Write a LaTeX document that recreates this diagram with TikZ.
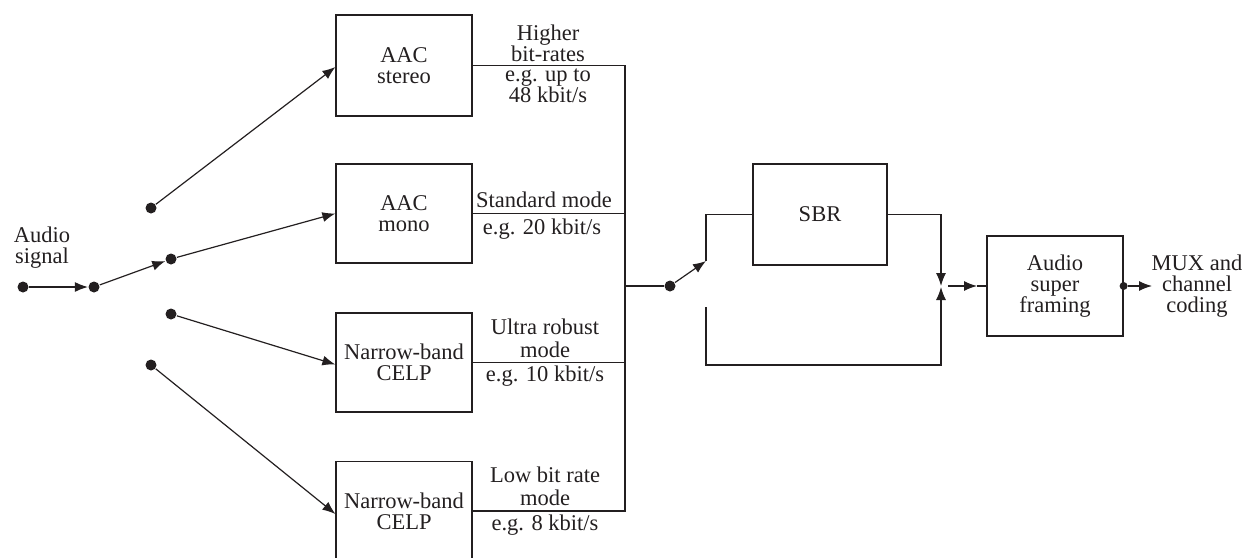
\documentclass[tikz,border=0pt]{standalone}
\usepackage{fontspec}
\setmainfont{Liberation Serif}
\usetikzlibrary{arrows.meta}
\definecolor{ink}{RGB}{35,31,32}
\begin{document}
\begin{tikzpicture}[x=1pt,y=-1pt,
  line width=1.2pt, color=ink,
  txt/.style={font=\fontsize{22.5}{21}\selectfont, text=ink, align=center, inner sep=0pt},
  wide/.style={font=\fontsize{22.5}{23}\selectfont},
  blk/.style={draw=ink, line width=1.2pt, minimum width=136pt, minimum height=100pt, txt},
  dot/.style={circle, fill=ink, draw=none, inner sep=0pt, minimum size=11pt},
  arr/.style={-{Latex[length=13pt,width=10pt]}}
]
\useasboundingbox (0,0) rectangle (1247,557);

% blocks
\node[blk, minimum height=101pt] (stereo) at (404,65.5) {AAC\\stereo};
\node[blk, minimum height=99pt] (mono) at (404,213.5) {AAC\\mono};
\node[blk, minimum height=99pt] (nb1) at (404,362.5) {Narrow-band\\CELP};
\node[blk, minimum height=99pt] (nb2) at (404,511) {Narrow-band\\CELP};
\node[blk, minimum width=134pt, minimum height=101pt] (sbr) at (820,214.5) {SBR};
\node[blk] (asf) at (1055,286) {Audio\\super\\framing};

% dots
\node[dot] (d0) at (23,287) {};
\node[dot] (d1) at (94,287) {};
\node[dot] (dtop) at (151,208) {};
\node[dot] (dmid) at (171,259) {};
\node[dot] (dlow) at (171,314) {};
\node[dot] (dbot) at (151,365) {};
\node[dot] (dsw) at (670,286) {};
\node[dot, minimum size=8pt] (dout) at (asf.east) {};

% coordinates
\coordinate (bt) at (625,65.5);
\coordinate (bj) at (625,286);
\coordinate (bb) at (625,511);
\coordinate (sw1) at (706,261);
\coordinate (sw2) at (706,307);
\coordinate (lowl) at (706,365);
\coordinate (lowr) at (941,365);
\coordinate (jt) at (941,286);
\coordinate (jb) at (941,287);
\coordinate (jo) at (948,286);
\coordinate (tipa) at (977,286);
\coordinate (tipb) at (1152,286);

% input arrows
\draw[arr] (d0) -- (d1);
\draw[arr] (d1) -- (dmid);
\draw[arr] (dtop) -- ([yshift=-1.5pt]stereo.west);
\draw[arr] (dmid) -- (mono.west);
\draw[arr] (dlow) -- ([yshift=-2pt]nb1.west);
\draw[arr] (dbot) -- ([yshift=-3pt]nb2.west);

% bus
\draw (stereo.east) -- (bt) -- (bb) -- (nb2.east);
\draw (mono.east) -- (mono.east -| bt);
\draw (nb1.east) -- (nb1.east -| bt);
\draw (bj) -- (dsw);

% switch and SBR
\draw[arr] (dsw) -- (sw1);
\draw (sw1) |- (sbr.west);
\draw[arr] (sbr.east) -| (jt);
\draw[arr] (sw2) -- (lowl) -- (lowr) -- (jb);
\draw[arr] (jo) -- (tipa);
\draw (tipa) -- (asf.west);
\draw[arr] (dout) -- (tipb);

% labels
\node[txt] (lin) at (42,248) {Audio\\signal};
\node[txt] (l1a) at (548,43) {Higher\\bit-rates};
\node[txt] (l1b) at (548,86) {e.g. up to\\48 kbit/s};
\node[txt] (l2a) at (544,200) {Standard mode};
\node[txt] (l2b) at (542,229) {e.g. 20 kbit/s};
\node[txt, wide] (l3a) at (545,338) {Ultra robust\\mode};
\node[txt] (l3b) at (545,376) {e.g. 10 kbit/s};
\node[txt, wide] (l4a) at (545,486) {Low bit rate\\mode};
\node[txt] (l4b) at (545,525) {e.g. 8 kbit/s};
\node[txt] (lmux) at (1197,286) {MUX and\\channel\\coding};
\end{tikzpicture}
\end{document}
